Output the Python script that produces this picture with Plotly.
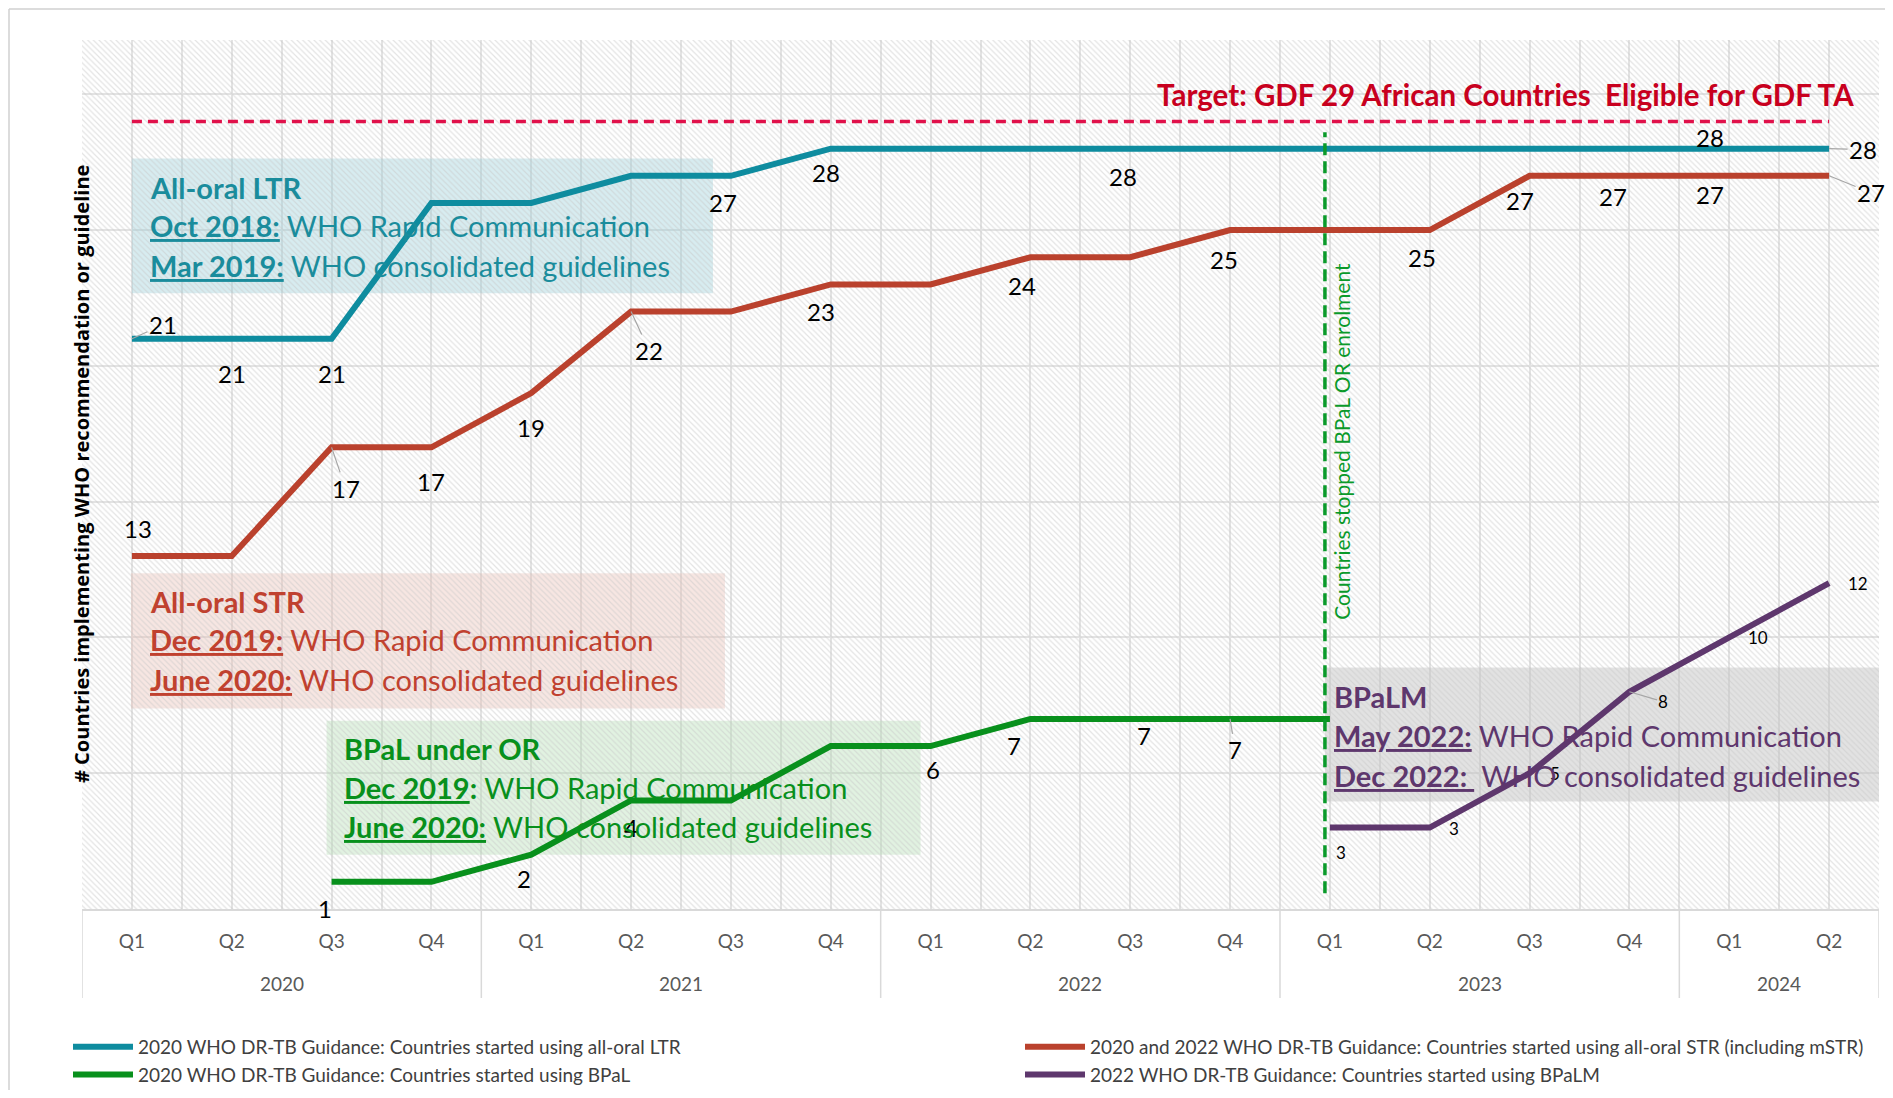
import plotly.graph_objects as go

# ---------------- data ----------------
quarters = ["Q1", "Q2", "Q3", "Q4", "Q1", "Q2", "Q3", "Q4", "Q1", "Q2", "Q3", "Q4",
            "Q1", "Q2", "Q3", "Q4", "Q1", "Q2"]
years = ["2020", "2021", "2022", "2023", "2024"]
quarters_per_year = [4, 4, 4, 4, 2]

ltr = [21, 21, 21, 26, 26, 27, 27, 28, 28, 28, 28, 28, 28, 28, 28, 28, 28, 28]
strr = [13, 13, 17, 17, 19, 22, 22, 23, 23, 24, 24, 25, 25, 25, 27, 27, 27, 27]
bpal = [None, None, 1, 1, 2, 4, 4, 6, 6, 7, 7, 7, 7, None, None, None, None, None]
bpalm = [None] * 12 + [3, 3, 5, 8, 10, 12]
target = 29
stop_enrol_x = 11.95

series_names = [
    "2020 WHO DR-TB Guidance: Countries started using all-oral LTR",
    "2020 and 2022 WHO DR-TB Guidance: Countries started using all-oral STR (including mSTR)",
    "2020 WHO DR-TB Guidance: Countries started using BPaL",
    "2022 WHO DR-TB Guidance: Countries started using BPaLM",
]

# ---------------- style ----------------
FONT = "Lato"
C_LTR = "#0E8C9F"
C_STR = "#BA412D"
C_BPAL = "#08901C"
C_BPALM = "#5E376D"

W, H = 1877, 1082
ML, MR, MT, MB = 74, 6, 32, 181
PW, PH = W - ML - MR, H - MT - MB
YMAX = 32

x = list(range(len(quarters)))

fig = go.Figure()

# hatched plot background
fig.add_trace(go.Bar(
    x=[(len(quarters) - 1) / 2], y=[YMAX], width=[len(quarters)],
    marker=dict(color="rgba(0,0,0,0)", line=dict(width=0),
                pattern=dict(shape="\\", fgcolor="#c8c8c8", bgcolor="rgba(0,0,0,0)",
                             size=4, solidity=0.3)),
    hoverinfo="skip", showlegend=False))

for vals, col, name, lg in [(ltr, C_LTR, series_names[0], "legend"),
                            (strr, C_STR, series_names[1], "legend2"),
                            (bpal, C_BPAL, series_names[2], "legend"),
                            (bpalm, C_BPALM, series_names[3], "legend2")]:
    fig.add_trace(go.Scatter(x=x, y=vals, mode="lines", name=name, legend=lg,
                             line=dict(color=col, width=6), connectgaps=False))

ann = []
shapes = []

# data labels: index -> (dx, dy, leader)
label_specs = [
    (ltr, {0: (31, -14, True), 1: (0, 35, False), 2: (0, 35, False), 6: (-8, 27, False),
           7: (-5, 24, False), 10: (-7, 28, False), 16: (-19, -11, False), 17: (34, 1, True)}, 24),
    (strr, {0: (6, -27, False), 2: (14, 41, True), 3: (0, 34, False), 4: (0, 34, False),
            5: (18, 39, True), 7: (-10, 27, False), 9: (-8, 28, False), 11: (-6, 29, False),
            13: (-8, 27, False), 14: (-10, 25, False), 15: (-16, 21, False),
            16: (-19, 19, False), 17: (42, 17, True)}, 24),
    (bpal, {2: (-7, 27, False), 4: (-7, 24, False), 5: (0, 27, False), 8: (2, 23, False),
            9: (-16, 27, False), 10: (14, 17, False), 11: (5, 31, True)}, 24),
    (bpalm, {12: (11, 25, False), 13: (24, 1, False), 14: (25, 0, False),
             15: (34, 10, True), 16: (29, 0, False), 17: (29, 0, False)}, 17),
]
for vals, spec, fs in label_specs:
    for i, (dx, dy, leader) in spec.items():
        if leader:
            ann.append(dict(x=i, y=vals[i], xref="x", yref="y", text=str(vals[i]),
                            showarrow=True, arrowhead=0, arrowwidth=1.2,
                            arrowcolor="#a6a6a6", ax=dx, ay=dy, standoff=0,
                            font=dict(family=FONT, size=fs, color="#000000")))
        else:
            ann.append(dict(x=i, y=vals[i], xref="x", yref="y", text=str(vals[i]),
                            showarrow=False, xshift=dx, yshift=-dy,
                            font=dict(family=FONT, size=fs, color="#000000")))

# target line + text
shapes.append(dict(type="line", xref="x", yref="y", x0=0, x1=len(quarters) - 1,
                   y0=target, y1=target,
                   line=dict(color="#E0114A", width=3.5, dash="10px,6px"),
                   layer="above"))
ann.append(dict(x=17.27, y=30.0, xref="x", yref="y", xanchor="right", yanchor="middle",
                showarrow=False,
                text="<b>Target: GDF 29 African Countries  Eligible for GDF TA</b>",
                font=dict(family=FONT, size=29.5, color="#C8001E")))

# stop-enrolment line + text
shapes.append(dict(type="line", xref="x", yref="y", x0=stop_enrol_x, x1=stop_enrol_x,
                   y0=0.58, y1=28.6, line=dict(color="#0A9A2A", width=3.5, dash="12px,6px"),
                   layer="above"))
ann.append(dict(x=stop_enrol_x, y=17.24, xref="x", yref="y", xshift=17, showarrow=False,
                textangle=-90, text="Countries stopped BPaL OR enrolment",
                font=dict(family=FONT, size=21, color="#0A9A2A")))

# guideline boxes
def U(s):
    return '<span style="text-decoration:underline">' + s + '</span>'

boxes = [
    dict(x0=0.0, x1=5.82, y0=22.67, y1=27.64, fill="rgba(150,205,215,0.38)", color="#1A8C9C",
         tx=0.16, ty=[26.58, 25.16, 23.69],
         lines=["<b>All-oral LTR</b>",
                "<b>" + U("Oct 2018:") + "</b> WHO Rapid Communication",
                "<b>" + U("Mar 2019:") + "</b> WHO consolidated guidelines"]),
    dict(x0=-0.01, x1=5.94, y0=7.38, y1=12.36, fill="rgba(235,190,180,0.38)", color="#C0412F",
         tx=0.16, ty=[11.33, 9.91, 8.44],
         lines=["<b>All-oral STR</b>",
                "<b>" + U("Dec 2019:") + "</b> WHO Rapid Communication",
                "<b>" + U("June 2020:") + "</b> WHO consolidated guidelines"]),
    dict(x0=1.95, x1=7.9, y0=2.0, y1=6.93, fill="rgba(175,220,175,0.38)", color="#08901C",
         tx=2.10, ty=[5.91, 4.49, 3.02],
         lines=["<b>BPaL under OR</b>",
                "<b>" + U("Dec 2019") + ":</b> WHO Rapid Communication",
                "<b>" + U("June 2020:") + "</b> WHO consolidated guidelines"]),
    dict(x0=11.95, x1=17.5, y0=3.96, y1=8.89, fill="rgba(190,190,190,0.45)", color="#5E376D",
         tx=12.02, ty=[7.82, 6.4, 4.93],
         lines=["<b>BPaLM</b>",
                "<b>" + U("May 2022:") + "</b> WHO Rapid Communication",
                "<b>" + U("Dec 2022: ") + "</b> WHO consolidated guidelines"]),
]
for b in boxes:
    shapes.append(dict(type="rect", xref="x", yref="y", x0=b["x0"], x1=b["x1"],
                       y0=b["y0"], y1=b["y1"], fillcolor=b["fill"], line=dict(width=0),
                       layer="between"))
    for t, yy in zip(b["lines"], b["ty"]):
        ann.append(dict(x=b["tx"], y=yy, xref="x", yref="y", xanchor="left",
                        yanchor="middle", showarrow=False, text=t,
                        font=dict(family=FONT, size=29, color=b["color"])))

# year labels + dividers under the axis
start = 0
bounds = [-0.5]
for yr, n in zip(years, quarters_per_year):
    ann.append(dict(x=start + (n - 1) / 2, y=-75 / PH, xref="x", yref="paper",
                    showarrow=False, text=yr, yanchor="middle",
                    font=dict(family=FONT, size=19, color="#595959")))
    start += n
    bounds.append(start - 0.5)
for bx in bounds:
    shapes.append(dict(type="line", xref="x", yref="paper", x0=bx, x1=bx, y0=0,
                       y1=-89 / PH, line=dict(color="#d9d9d9", width=1.5)))

# y title
ann.append(dict(x=-16 / PW, y=0.5, xref="paper", yref="paper", showarrow=False,
                textangle=-90,
                text="<b># Countries implementing WHO recommendation or guideline</b>",
                font=dict(family="Open Sans", size=20, color="#000000")))

# chart border (left and top)
shapes.append(dict(type="line", xref="paper", yref="paper", x0=-73 / PW, x1=-73 / PW,
                   y0=-(MB + 20) / PH, y1=(PH + 31) / PH,
                   line=dict(color="#d0d0d0", width=1.5)))
shapes.append(dict(type="line", xref="paper", yref="paper", x0=-73 / PW, x1=(PW + 20) / PW,
                   y0=(PH + 31) / PH, y1=(PH + 31) / PH,
                   line=dict(color="#d0d0d0", width=1.5)))

legend_common = dict(orientation="v", xanchor="left", yanchor="top", itemwidth=60,
                     font=dict(family=FONT, size=19, color="#404040"),
                     tracegroupgap=0, bgcolor="rgba(0,0,0,0)")
fig.update_layout(
    width=W, height=H,
    margin=dict(l=ML, r=MR, t=MT, b=MB, autoexpand=False),
    paper_bgcolor="white", plot_bgcolor="white",
    font=dict(family=FONT, size=18, color="#404040"),
    showlegend=True,
    legend=dict(x=-14 / PW, y=-119 / PH, **legend_common),
    legend2=dict(x=(1024 - 82 - 4) / PW, y=-119 / PH, **legend_common),
    annotations=ann, shapes=shapes,
    bargap=0,
)
fig.update_xaxes(range=[-0.5, len(quarters) - 0.5], tickmode="array", tickvals=x,
                 ticktext=quarters, showgrid=True, gridcolor="#e3e3e3", gridwidth=1.5,
                 minor=dict(tickvals=[i + 0.5 for i in x[:-1]], showgrid=True,
                            gridcolor="#e3e3e3", gridwidth=1.5),
                 ticks="outside", ticklen=14, tickcolor="rgba(0,0,0,0)",
                 tickfont=dict(family=FONT, size=19, color="#595959"),
                 showline=True, linecolor="#d9d9d9", linewidth=2, zeroline=False,
                 fixedrange=True)
fig.update_yaxes(range=[0, YMAX], dtick=5, showgrid=True, gridcolor="#e3e3e3", gridwidth=1.5,
                 showticklabels=False, zeroline=False, showline=False, fixedrange=True)

fig.write_html("out.html")
